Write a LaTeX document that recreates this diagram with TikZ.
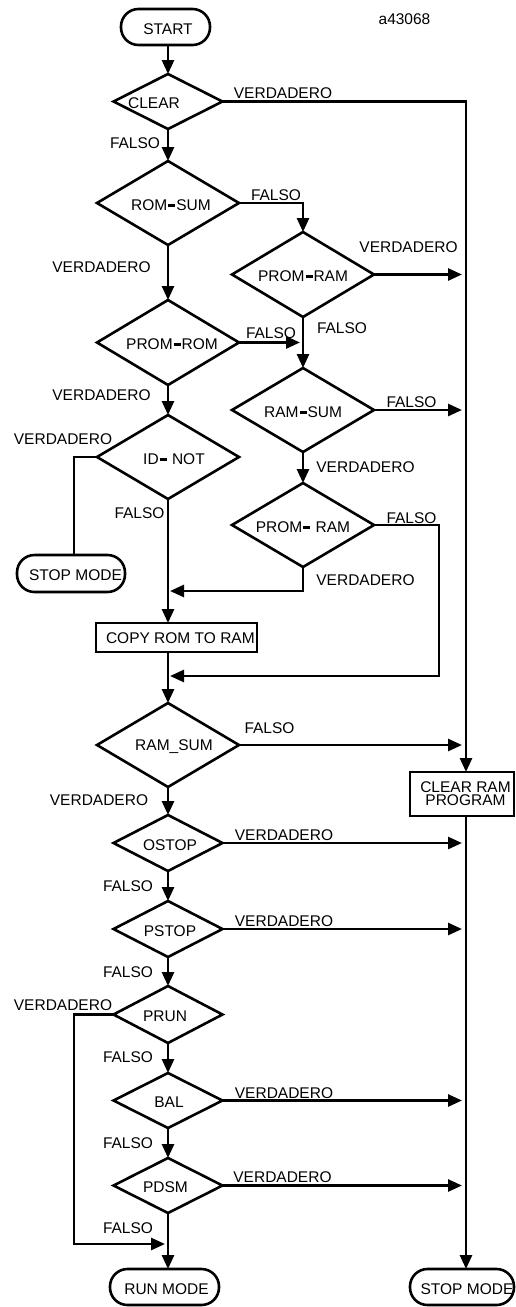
\documentclass[tikz,border=0pt]{standalone}
\usepackage{fontspec}
\setmainfont{Liberation Sans}
\usetikzlibrary{shapes.geometric,arrows.meta}
% thick bar used between the words of the test names
\newcommand\mybar{\hspace{1pt}\rule[3.5pt]{7pt}{3pt}\hspace{1pt}}
% zero-width text, moved sideways by half of #1 and lowered a little
\newcommand\shiftx[2]{\makebox[0pt]{\kern#1\relax\raisebox{-2pt}[\height][\depth]{#2}}}
\begin{document}
\begin{tikzpicture}[x=1pt,y=-1pt,
  every node/.style={font=\fontsize{15.5}{16}\selectfont,inner sep=0pt,outer sep=0pt},
  dec/.style={draw,line width=2.6pt,shape=diamond,aspect=1},
  bigdec/.style={dec,minimum width=142pt,minimum height=84pt},
  smalldec/.style={dec,minimum width=109pt,minimum height=55pt},
  term/.style={draw,line width=2.6pt,rectangle,rounded corners=17.5pt,minimum height=36pt},
  proc/.style={draw,line width=1.6pt,rectangle},
  flow/.style={line width=2.7pt},
  arr/.style={flow,-{Triangle[length=14pt,width=12pt]}}]

\fill[white] (0,0) rectangle (515,1307);
\useasboundingbox (0,0) rectangle (515,1307);

% reference coordinates for columns
\coordinate (bus) at (466,0);
\coordinate (busin) at (462,0);
\coordinate (rcin) at (300,0);
\coordinate (mainin) at (170,0);
\coordinate (runin) at (165,0);
\coordinate (vl) at (74,0);
\coordinate (j1) at (303,591);
\coordinate (j2) at (439,676);
\coordinate (j3) at (74,1244);

% terminals
\node[term,minimum width=89pt] (start) at (165.5,27) {\shiftx{5pt}{START}};
\node[term,minimum width=108pt,minimum height=37pt] (stopl) at (71,573.5) {\shiftx{9pt}{STOP MODE}};
\node[term,minimum width=109pt] (runmode) at (164.5,1287) {\shiftx{4pt}{RUN MODE}};
\node[term,minimum width=104pt] (stopr) at (462,1287) {\shiftx{10pt}{STOP MODE}};

% decisions
\node[smalldec] (clear) at (168,101.5) {\shiftx{-28pt}{CLEAR}};
\node[bigdec] (romsum) at (168,203) {\shiftx{6pt}{ROM\mybar SUM}};
\node[bigdec,minimum height=85pt] (promram) at (303,274.5) {\shiftx{0pt}{PROM\mybar RAM}};
\node[bigdec,minimum height=85pt] (promrom) at (168,342.5) {\shiftx{8pt}{PROM\mybar ROM}};
\node[bigdec] (ramsum) at (303,410) {\shiftx{0pt}{RAM\mybar SUM}};
\node[bigdec] (idnot) at (168,457) {\shiftx{12pt}{ID\mybar\ NOT}};
\node[bigdec] (promram2) at (303,525) {\shiftx{0pt}{PROM\mybar\ RAM}};
\node[bigdec] (ramsumb) at (168,745) {\shiftx{12pt}{RAM\_SUM}};
\node[smalldec,minimum height=56pt] (ostop) at (168,843) {\shiftx{4pt}{OSTOP}};
\node[smalldec,minimum height=56pt] (pstop) at (168,929) {\shiftx{4pt}{PSTOP}};
\node[smalldec,minimum height=57pt] (prun) at (168,1014.5) {\shiftx{-6pt}{PRUN}};
\node[smalldec] (bal) at (168,1100.5) {\shiftx{2pt}{BAL}};
\node[smalldec] (pdsm) at (168,1185.5) {\shiftx{-5pt}{PDSM}};

% processes
\node[proc,minimum width=161pt,minimum height=29pt] (copy) at (176.5,637.5)
  {\makebox[0pt][l]{\kern-70.5pt\raisebox{-1pt}[\height][\depth]{COPY ROM TO RAM}}};
\node[proc,minimum width=104pt,minimum height=44pt,align=center,
      font=\fontsize{15.5}{13}\selectfont] (clearram) at (462,794)
  {\hspace*{7pt}CLEAR RAM\\\hspace*{7pt}PROGRAM};

% right-hand collecting line
\draw[arr] (clear.east) -| (bus |- clearram.north);
\draw[arr] (bus |- clearram.south) -- (bus |- stopr.north);

% main column
\draw[arr] (clear |- start.south) -- (clear.north);
\draw[arr] (clear.south) -- (romsum.north);
\draw[arr] (romsum.south) -- (promrom.north);
\draw[arr] (promrom.south) -- (idnot.north);
\draw[arr] (idnot.south) -- (idnot.south |- copy.north);
\draw[flow] (idnot.west) -| (vl |- stopl.north);
\draw[arr] (ramsumb |- copy.south) -- (ramsumb.north);
\draw[arr] (ramsumb.south) -- (ostop.north);
\draw[arr] (ostop.south) -- (pstop.north);
\draw[arr] (pstop.south) -- (prun.north);
\draw[arr] (prun.south) -- (bal.north);
\draw[arr] (bal.south) -- (pdsm.north);
\draw[arr] (pdsm.south) -- (pdsm.south |- runmode.north);
\draw[arr] (prun.west) -| (j3) -- (j3 -| runin);

% second column
\draw[arr] (romsum.east) -| (promram.north);
\draw[arr] (promram.south) -- (ramsum.north);
\draw[arr] (promrom.east) -- (promrom.east -| rcin);
\draw[arr] (ramsum.south) -- (promram2.north);
\draw[arr] (promram2.south) -- (j1) -- (j1 -| mainin);
\draw[arr] (promram2.east) -| (j2) -- (j2 -| mainin);

% branches into the collecting line
\draw[arr] (promram.east) -- (promram.east -| busin);
\draw[arr] (ramsum.east) -- (ramsum.east -| busin);
\draw[arr] (ramsumb.east) -- (ramsumb.east -| busin);
\draw[arr] (ostop.east) -- (ostop.east -| busin);
\draw[arr] (pstop.east) -- (pstop.east -| busin);
\draw[arr] (bal.east) -- (bal.east -| busin);
\draw[arr] (pdsm.east) -- (pdsm.east -| busin);

% labels
\node (code) at (404.5,19) {a43068};
\node (l1) at (283,93) {VERDADERO};
\node (l2) at (135,143) {FALSO};
\node (l3) at (276,195) {FALSO};
\node (l4) at (408.5,247) {VERDADERO};
\node (l5) at (101.5,267) {VERDADERO};
\node (l6) at (271,333) {FALSO};
\node (l7) at (342,328) {FALSO};
\node (l8) at (101.5,395) {VERDADERO};
\node (l9) at (411.5,402) {FALSO};
\node (l10) at (63,439) {VERDADERO};
\node (l11) at (365.5,467) {VERDADERO};
\node (l12) at (139.5,513) {FALSO};
\node (l13) at (411.5,518) {FALSO};
\node (l14) at (365.5,580) {VERDADERO};
\node (l15) at (269.5,728) {FALSO};
\node (l16) at (99,800) {VERDADERO};
\node (l17) at (284,835) {VERDADERO};
\node (l18) at (128,886) {FALSO};
\node (l19) at (284,921) {VERDADERO};
\node (l20) at (128,972) {FALSO};
\node (l21) at (63,1005) {VERDADERO};
\node (l22) at (128,1057) {FALSO};
\node (l23) at (284,1093) {VERDADERO};
\node (l24) at (128,1143) {FALSO};
\node (l25) at (282.5,1177) {VERDADERO};
\node (l26) at (128,1228) {FALSO};
\end{tikzpicture}
\end{document}
